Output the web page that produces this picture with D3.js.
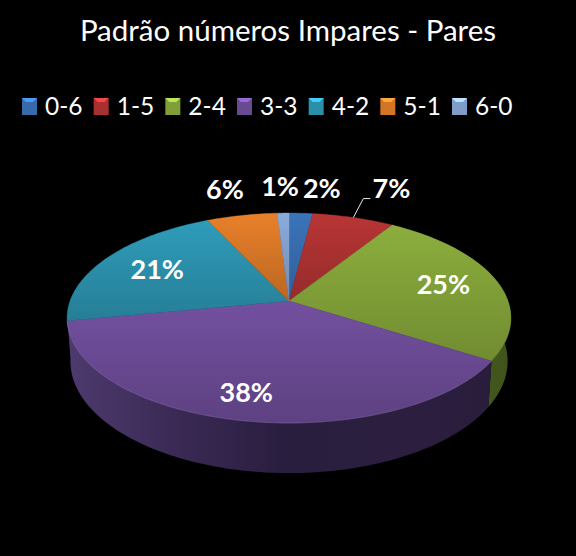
<!DOCTYPE html>
<html>
<head>
<meta charset="utf-8">
<script src="https://cdnjs.cloudflare.com/ajax/libs/d3/7.8.5/d3.min.js"></script>
<style>
html, body { margin: 0; padding: 0; background: #000; }
svg { display: block; }
text { font-family: Lato, "Open Sans", sans-serif; fill: #fff; }
</style>
</head>
<body>
<svg id="chart" width="576" height="556"></svg>
<script>
const categories = ['0-6', '1-5', '2-4', '3-3', '4-2', '5-1', '6-0'];
const values = [2, 7, 25, 38, 21, 6, 1];
const labels = ['2%', '7%', '25%', '38%', '21%', '6%', '1%'];
const colors = ['#3b74ba', '#b93535', '#8cae3d', '#7350a0', '#2f9cba', '#e8802a', '#8cabdc'];
const title = 'Padrão números Impares - Pares';

// label offsets from the rim point at each slice's mid angle
const labelOffsets = [[21, -25], [38, -29], [-52, 5], [6, -28], [50, 11], [-17, -26], [-3, -27]];

const svg = d3.select('#chart');
const defs = svg.append('defs');

// 3d pie: circle in the plane, seen with perspective
const cx = 289, cy = 301, A = 219, B = 102.2, k = 0.162;
const depth = 42, bottomScale = 0.985;

const project = (theta, bottom) => {
    const u = Math.sin(theta), v = -Math.cos(theta);
    const w = 1 - k * v;
    if (bottom) {
        return [cx + bottomScale * A * u / w, cy + depth / w + B * v / w];
    }
    return [cx + A * u / w, cy + B * v / w];
};

const arcSamples = (a0, a1) => {
    const n = Math.max(2, Math.ceil((a1 - a0) / 0.02));
    return d3.range(n + 1).map(i => a0 + (a1 - a0) * i / n);
};

const pie = d3.pie().sort(null).value(d => d);
const slices = pie(values).map((d, i) => ({...d, i}));
const line = d3.line();

// walls: only slices that reach the front show one
const wallStops = {
    2: ['#4f6824', '#3f531c'],
    3: ['#4e3a6e', '#3a2a55', '#2a1e40', '#2b1e3f', '#2a1d3c']
};

slices.filter(d => -Math.cos(d.endAngle) > 0).forEach(d => {
    // purple wall wraps round to the left silhouette
    const end = d.i === 3 ? d.endAngle + 0.05 : d.endAngle;
    const angles = arcSamples(d.startAngle, end);
    const pts = angles.map(t => project(t, false))
        .concat(angles.slice().reverse().map(t => project(t, true)));
    const stops = wallStops[d.i];
    const xs = pts.map(p => p[0]);
    const grad = defs.append('linearGradient')
        .attr('id', 'wall' + d.i)
        .attr('gradientUnits', 'userSpaceOnUse')
        .attr('x1', d3.min(xs)).attr('x2', d3.max(xs))
        .attr('y1', 0).attr('y2', 0);
    stops.forEach((s, j) => {
        grad.append('stop').attr('offset', j / (stops.length - 1)).attr('stop-color', s);
    });
    svg.append('path')
        .attr('d', line(pts) + 'Z')
        .attr('fill', `url(#wall${d.i})`);
});

// top faces
slices.forEach(d => {
    const c = d3.color(colors[d.i]);
    const grad = defs.append('linearGradient')
        .attr('id', 'top' + d.i)
        .attr('x1', 0).attr('x2', 0).attr('y1', 0).attr('y2', 1);
    grad.append('stop').attr('offset', 0).attr('stop-color', c.formatHex());
    grad.append('stop').attr('offset', 1).attr('stop-color', c.darker(0.6).formatHex());

    const pts = [[cx, cy]].concat(arcSamples(d.startAngle, d.endAngle).map(t => project(t, false)));
    svg.append('path')
        .attr('d', line(pts) + 'Z')
        .attr('fill', `url(#top${d.i})`)
        .attr('stroke', `url(#top${d.i})`)
        .attr('stroke-width', 0.4);
});

// pale rim along the front edge
svg.append('path')
    .attr('d', line(arcSamples(slices[3].startAngle, slices[3].endAngle).map(t => project(t, false))))
    .attr('fill', 'none')
    .attr('stroke', '#a48cc8')
    .attr('stroke-opacity', 0.4)
    .attr('stroke-width', 0.8);

// data labels
slices.forEach(d => {
    const mid = (d.startAngle + d.endAngle) / 2;
    const p = project(mid, false);
    const off = labelOffsets[d.i];
    svg.append('text')
        .attr('x', p[0] + off[0])
        .attr('y', p[1] + off[1])
        .attr('dy', '0.36em')
        .attr('text-anchor', 'middle')
        .attr('font-size', 27)
        .attr('font-weight', 700)
        .text(labels[d.i]);
    // leader line for 1-5 only
    if (d.i === 1) {
        svg.append('path')
            .attr('d', line([p, [p[0] + 10, p[1] - 19], [p[0] + 17, p[1] - 19]]))
            .attr('fill', 'none')
            .attr('stroke', '#e8e8e8')
            .attr('stroke-width', 1);
    }
});

// title
svg.append('text')
    .attr('x', 288)
    .attr('y', 41)
    .attr('text-anchor', 'middle')
    .attr('font-size', 29.5)
    .text(title);

// legend
const legendX = d3.scalePoint().domain(categories).range([22, 452]);
const swatch = 15, swatchH = 17;

categories.forEach((name, i) => {
    const x = legendX(name), y = 98;
    const c = d3.color(colors[i]);
    const g = svg.append('g').attr('transform', `translate(${x},${y})`);
    g.append('rect').attr('width', swatch).attr('height', swatchH).attr('fill', c.darker(0.25).formatHex());
    g.append('path')
        .attr('d', line([[0, 0], [swatch, 0], [swatch - 4, 4], [4, 4]]) + 'Z')
        .attr('fill', c.brighter(0.8).formatHex());
    g.append('text')
        .attr('x', 23)
        .attr('y', swatchH)
        .attr('font-size', 24.5)
        .text(name);
});
</script>
</body>
</html>
